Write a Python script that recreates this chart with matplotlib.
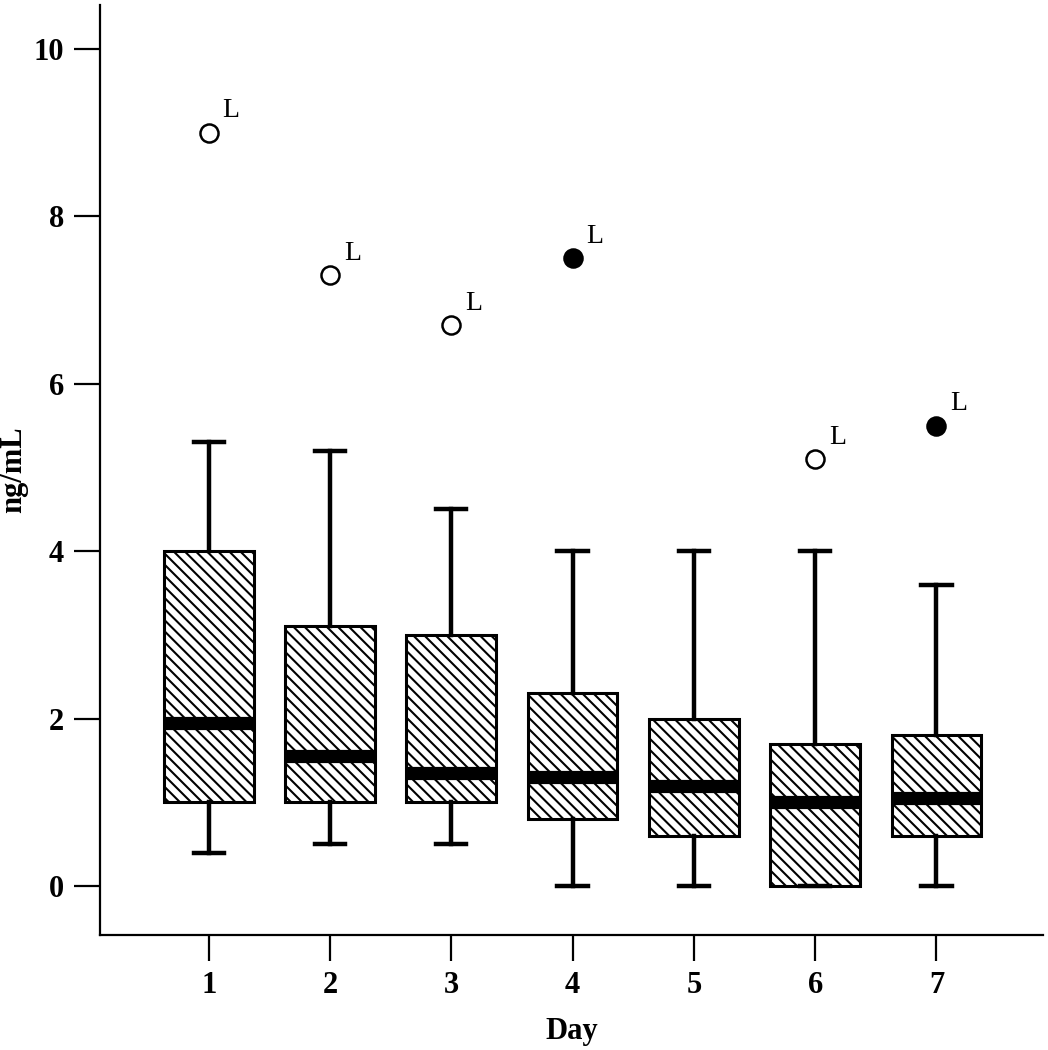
import matplotlib
matplotlib.use("Agg")
import matplotlib.pyplot as plt

days = [1, 2, 3, 4, 5, 6, 7]
whislo = [0.4, 0.5, 0.5, 0.0, 0.0, 0.0, 0.0]
q1 = [1.0, 1.0, 1.0, 0.8, 0.6, 0.0, 0.6]
med = [1.95, 1.55, 1.35, 1.3, 1.2, 1.0, 1.05]
q3 = [4.0, 3.1, 3.0, 2.3, 2.0, 1.7, 1.8]
whishi = [5.3, 5.2, 4.5, 4.0, 4.0, 4.0, 3.6]
# outliers: (day, value, filled)
out_day = [1, 2, 3, 4, 6, 7]
out_val = [9.0, 7.3, 6.7, 7.5, 5.1, 5.5]
out_filled = [False, False, False, True, False, True]

plt.rcParams["hatch.linewidth"] = 1.5
serif = "Liberation Serif"

fig = plt.figure(figsize=(10.48, 10.5), dpi=100)
ax = fig.add_axes([0.0954, 0.1095, 0.9, 0.8855])

stats = []
for i in range(len(days)):
    stats.append(dict(med=med[i], q1=q1[i], q3=q3[i],
                      whislo=whislo[i], whishi=whishi[i], fliers=[]))

bp = ax.bxp(stats, positions=days, widths=0.74, patch_artist=True,
            showfliers=False, capwidths=0.25,
            boxprops=dict(facecolor="white", edgecolor="black",
                          linewidth=2.2, hatch="\\\\\\"),
            medianprops=dict(color="black", linewidth=9.5, solid_capstyle="butt"),
            whiskerprops=dict(color="black", linewidth=3.2),
            capprops=dict(color="black", linewidth=3.2))

for d, v, f in zip(out_day, out_val, out_filled):
    ax.plot(d, v, "o", markersize=13, markeredgewidth=1.8,
            markeredgecolor="black", markerfacecolor="black" if f else "white")
    ax.annotate("L", (d, v), xytext=(10, 11), textcoords="offset points",
                fontsize=20, family=serif)

ax.set_xlim(0.103, 7.88)
ax.set_ylim(-0.585, 10.52)
ax.set_xticks(days)
ax.set_yticks([0, 2, 4, 6, 8, 10])
for s in ["top", "right"]:
    ax.spines[s].set_visible(False)
for s in ["left", "bottom"]:
    ax.spines[s].set_linewidth(1.6)
ax.tick_params(length=19, width=1.6, labelsize=22, pad=7)
for lab in ax.get_xticklabels() + ax.get_yticklabels():
    lab.set_family(serif)
    lab.set_fontweight("bold")

ax.set_xlabel("Day", family=serif, fontweight="bold", fontsize=22, labelpad=12)
ax.set_ylabel("ng/mL", family=serif, fontweight="bold", fontsize=22)
ax.yaxis.set_label_coords(-0.076, 0.5)

fig.savefig("out.png", dpi=100)
